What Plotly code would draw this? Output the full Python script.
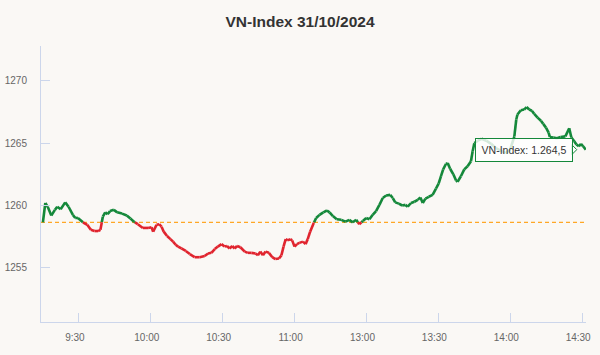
import plotly.graph_objects as go

# Session minutes since 09:15 (lunch break 11:30-13:00 removed)
minutes = [0, 1, 2, 3.5, 5, 6, 7.4, 9.3, 10.7, 12.5, 13.5, 14.6, 16.7, 18.5, 20, 21.5, 23, 24, 25, 26,
           27, 28, 29.6, 31, 33, 35, 36.5, 38, 39.6, 41.7, 43.9, 45.3, 46, 47.4, 48.5, 49.5, 50.4, 51.8,
           53.2, 54.3, 55.4, 56.4, 57.8, 59.6, 61.3, 63.3, 65.4, 67.5, 68.9, 70.3, 71.7, 73, 74.5, 75.8,
           76.8, 77.9, 79, 80, 81, 82.4, 84.2, 85.5, 87, 88.75, 89.7, 90.7, 91.8, 92.9, 94.3, 95.7, 97,
           98.5, 99.5, 100.4, 101.3, 102.2, 103.2, 104, 105, 106, 107, 108.5, 109.6, 110.5, 111.5, 113,
           114, 115.4, 117, 118.5, 119.6, 121, 122.6, 124.5, 126.3, 127.8, 129.3, 130.7, 132, 133.5,
           134.9, 136.25, 137.6, 139, 140.4, 141.8, 143.2, 144.9, 146, 147, 148.5, 149.9, 151.25, 152.2,
           153.6, 155, 156.4, 157.5, 158.5, 159.6, 161, 162.6, 164, 165.1, 166.1, 167, 168.2, 168.9,
           169.9, 171.25, 172.4, 173, 174.4, 175.8, 177.2, 178.6, 179.3, 180, 181.5, 183, 185, 187, 189,
           191, 193, 195, 196.7, 197.5, 198, 199.4, 200.8, 201.8, 202.9, 204, 205, 206.4, 207.8, 208.75,
           209.9, 211, 211.5, 213, 214.5, 216, 218, 219.6, 220.5, 221.7, 222.6, 223.6, 224.5, 225.4, 226.5]
values = [1258.65, 1260.2, 1259.9, 1259.2, 1259.65, 1259.9, 1259.7, 1260.25, 1259.9, 1259.25, 1259.0,
          1259.0, 1258.65, 1258.45, 1258.05, 1257.95, 1257.95, 1258.05, 1259.1, 1259.45, 1259.3, 1259.55,
          1259.65, 1259.45, 1259.35, 1259.2, 1258.95, 1258.7, 1258.5, 1258.2, 1258.2, 1258.25, 1257.9,
          1258.45, 1258.5, 1258.3, 1257.9, 1257.55, 1257.3, 1257.1, 1256.85, 1256.7, 1256.55, 1256.35,
          1256.1, 1255.85, 1255.85, 1255.95, 1256.15, 1256.2, 1256.5, 1256.7, 1256.9, 1256.7, 1256.75,
          1256.55, 1256.75, 1256.55, 1256.75, 1256.65, 1256.3, 1256.2, 1256.2, 1256.15, 1256.0, 1256.3,
          1256.0, 1256.3, 1256.2, 1255.85, 1255.7, 1255.75, 1256.0, 1256.7, 1257.3, 1257.2, 1257.3,
          1257.2, 1256.7, 1256.9, 1257.0, 1257.1, 1256.9, 1257.3, 1257.9, 1258.6, 1259.0, 1259.25,
          1259.45, 1259.6, 1259.45, 1259.15, 1258.9, 1258.85, 1258.7, 1258.85, 1258.65, 1258.85, 1258.5,
          1258.75, 1259.0, 1258.9, 1259.25, 1259.55, 1260.05, 1260.6, 1260.8, 1260.85, 1260.6, 1260.25,
          1260.15, 1260.0, 1260.05, 1259.9, 1260.2, 1260.3, 1260.45, 1260.65, 1260.2, 1260.55, 1260.7,
          1260.85, 1261.35, 1261.75, 1262.35, 1262.9, 1263.35, 1263.4, 1262.95, 1262.5, 1262.0, 1261.9,
          1262.35, 1262.9, 1263.15, 1263.55, 1264.35, 1265.0, 1265.2, 1265.35, 1265.2, 1264.95, 1264.6,
          1264.4, 1264.2, 1264.5, 1265.55, 1266.9, 1267.3, 1267.65, 1267.7, 1267.9, 1267.7, 1267.6,
          1267.35, 1267.05, 1266.8, 1266.55, 1266.25, 1265.85, 1265.5, 1265.45, 1265.4, 1265.5, 1265.55,
          1266.2, 1265.45, 1265.15, 1264.9, 1264.75, 1264.95, 1264.75, 1264.48]
reference = 1258.65

tick_positions = [15, 45, 75, 105, 135, 165, 195, 225]
tick_labels = ["9:30", "10:00", "10:30", "11:00", "13:00", "13:30", "14:00", "14:30"]
y_ticks = [1255, 1260, 1265, 1270]

GREEN = "#14883a"
RED = "#e0242e"

# split line into above/below reference segments
gx, gy, rx, ry = [], [], [], []
for i in range(len(minutes) - 1):
    x0, y0, x1, y1 = minutes[i], values[i], minutes[i + 1], values[i + 1]
    a0, a1 = y0 >= reference, y1 >= reference
    if a0 == a1:
        tx, ty = (gx, gy) if a0 else (rx, ry)
        tx += [x0, x1, None]
        ty += [y0, y1, None]
    else:
        t = (reference - y0) / (y1 - y0)
        xc = x0 + t * (x1 - x0)
        first = (gx, gy) if a0 else (rx, ry)
        second = (rx, ry) if a0 else (gx, gy)
        first[0].extend([x0, xc, None]); first[1].extend([y0, reference, None])
        second[0].extend([xc, x1, None]); second[1].extend([reference, y1, None])

fig = go.Figure()
fig.add_trace(go.Scatter(x=gx, y=gy, mode="lines", line=dict(color=GREEN, width=2.6),
                         connectgaps=False, showlegend=False))
fig.add_trace(go.Scatter(x=rx, y=ry, mode="lines", line=dict(color=RED, width=2.6),
                         connectgaps=False, showlegend=False))

fig.add_shape(type="line", xref="paper", x0=0, x1=1, y0=reference, y1=reference,
              line=dict(color="#ffa726", width=1.2, dash="4px,3px"), layer="below")

last_val = values[-1]
# tooltip callout notch pointing at the last point
fig.add_shape(type="path", xsizemode="pixel", ysizemode="pixel",
              xanchor=minutes[-1], yanchor=last_val,
              path="M -14,5 L -9,0 L -14,-5 Z",
              fillcolor="rgba(255,255,255,0.85)", line=dict(color=GREEN, width=1), layer="above")

label_val = f"{last_val:,.1f}".replace(",", "X").replace(".", ",").replace("X", ".")
fig.add_annotation(x=minutes[-1], y=last_val, text=f"VN-Index: {label_val}", showarrow=False,
                   xanchor="right", yanchor="middle", xshift=-13,
                   font=dict(family="Liberation Sans, Arial", size=10.5, color="#333333"),
                   bgcolor="rgba(255,255,255,0.82)", bordercolor=GREEN, borderwidth=1,
                   borderpad=5, width=86, height=12)

axis_col = "#ccd6eb"
fig.update_layout(
    width=600, height=355,
    margin=dict(l=41, r=14, t=46, b=33, autoexpand=False),
    paper_bgcolor="#faf8f5", plot_bgcolor="#faf8f5",
    title=dict(text="<b>VN-Index 31/10/2024</b>", x=0.5, xanchor="center", y=1 - 22 / 355,
               yanchor="middle", font=dict(family="Liberation Sans, Arial", size=15.5, color="#333333")),
    font=dict(family="Liberation Sans, Arial", size=10, color="#666666"),
    xaxis=dict(range=[-0.8, 226.6], tickvals=tick_positions, ticktext=tick_labels, automargin=False,
               showgrid=False, zeroline=False, showline=True, linecolor=axis_col, linewidth=1,
               ticks="inside", ticklen=9, tickcolor=axis_col, ticklabelstandoff=6, ticklabelshift=-4,
               tickfont=dict(size=10, color="#666666")),
    yaxis=dict(range=[1250.65, 1272.8], tickvals=y_ticks, showgrid=False, zeroline=False, automargin=False,
               showline=True, linecolor=axis_col, linewidth=1, ticks="inside", ticklen=9,
               tickcolor=axis_col, ticklabelstandoff=11, tickfont=dict(size=10, color="#666666")),
)

fig.write_html("out.html")
